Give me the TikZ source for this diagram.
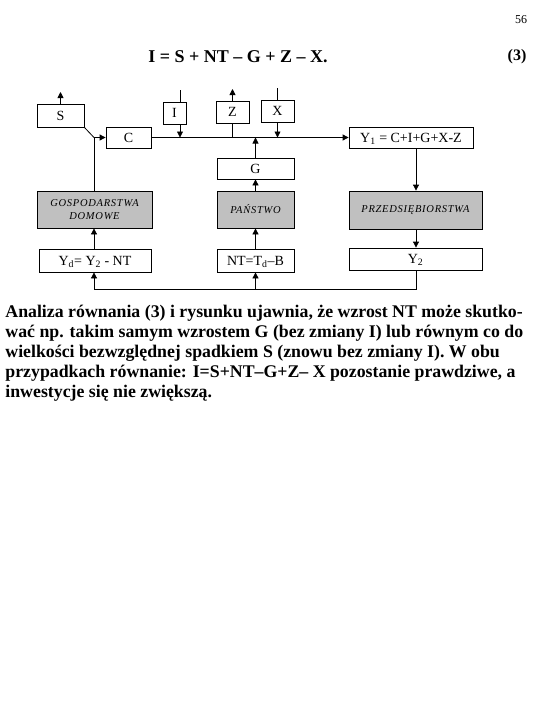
\documentclass[tikz,border=0pt]{standalone}
\usepackage{fontspec}
\setmainfont{Liberation Serif}
\newfontfamily\spacedfont[LetterSpace=7]{Liberation Serif}
\usetikzlibrary{arrows.meta}
\definecolor{boxgrey}{RGB}{192,192,192}

\begin{document}
\begin{tikzpicture}[x=1pt,y=-1pt,line width=0.8pt,
box node/.style = {draw, inner sep = 0pt, text height=9.5pt, text depth=0pt, font=\fontsize{14}{15}\selectfont},
firm node/.style = {draw, inner sep = 0pt, fill=boxgrey, align=center, font=\spacedfont\itshape\fontsize{10.5}{13}\selectfont},
flow/.style = {-{Triangle[length=6pt,width=6pt]}}]

\path[fill=white] (0,0) rectangle (540,720);
\useasboundingbox (0,0) rectangle (540,720);

\node (page) at (521,20) {\fontsize{12}{14}\selectfont 56};
\node[font=\bfseries\fontsize{18}{21}\selectfont] (eq) at (238,57) {I = S + NT -- G + Z -- X.};
\node[font=\bfseries\fontsize{16}{20}\selectfont] (eqno) at (517,57) {(3)};

\node[box node, minimum width=47pt, minimum height=23pt] (S) at (60.5,115.5) {S};
\node[box node, minimum width=23pt, minimum height=22pt] (I) at (174.5,113) {I};
\node[box node, minimum width=33pt, minimum height=22pt] (Z) at (232.5,112) {Z};
\node[box node, minimum width=33pt, minimum height=22pt] (X) at (277.5,111) {X};
\node[box node, minimum width=45pt, minimum height=21pt] (C) at (128.5,137.5) {C};
\node[box node, minimum width=124pt, minimum height=21pt] (Y1) at (411,137.5) {Y\textsubscript{1} = C+I+G+X-Z};
\node[box node, minimum width=77pt, minimum height=21pt] (G) at (255.5,168.5) {G};
\node[firm node, minimum width=115pt, minimum height=37pt] (dom) at (94.5,209.5) {GOSPODARSTWA\\DOMOWE};
\node[firm node, minimum width=77pt, minimum height=37pt] (pan) at (255.5,209.5) {PAŃSTWO};
\node[firm node, minimum width=133pt, minimum height=38pt] (prz) at (415.5,210) {PRZEDSIĘBIORSTWA};
\node[box node, minimum width=112pt, minimum height=23pt] (Yd) at (95,260.5) {Y\textsubscript{d}= Y\textsubscript{2} - NT};
\node[box node, minimum width=77pt, minimum height=23pt] (NT) at (255.5,260.5) {NT=T\textsubscript{d}--B};
\node[box node, minimum width=133pt, minimum height=22pt] (Y2) at (415.5,259) {Y\textsubscript{2}};

\coordinate (S out) at (60.5,92);
\coordinate (I in) at (180,90);
\coordinate (Z out) at (232.5,89);
\coordinate (X in) at (277.5,88);
\coordinate (split) at (94,137.5);
\coordinate (loop) at (416,289);
\coordinate (loop end) at (94,289);

\draw[flow] (S.north) -- (S out);
\draw (I in) -- (I in |- I.north);
\draw[flow] (I in |- I.south) -- (I in |- C.east);
\draw[flow] (Z.north) -- (Z out);
\draw (Z.south) -- (Z.south |- C.east);
\draw (X in) -- (X.north);
\draw[flow] (X.south) -- (X.south |- C.east);
\draw[flow] (C.east) -- (Y1.west);
\draw[flow] (G.north) -- (G.north |- C.east);
\draw (S.south east) -- (split);
\draw[flow] (split) -- (C.west);
\draw (split) -- (split |- dom.north);
\draw[flow] (loop end |- Yd.north) -- (loop end |- dom.south);
\draw[flow] (NT.north) -- (pan.south);
\draw[flow] (pan.north) -- (G.south);
\draw[flow] (Y1.south -| loop) -- (prz.north -| loop);
\draw[flow] (prz.south -| loop) -- (Y2.north -| loop);
\draw (Y2.south -| loop) -- (loop) -- (loop end);
\draw[flow] (loop end) -- (loop end |- Yd.south);
\draw[flow] (NT.south |- loop) -- (NT.south);

\node[anchor=north west, align=left, inner sep=0pt, font=\bfseries\fontsize{17.8}{20}\selectfont] (txt) at (5,305)
{Analiza równania (3) i rysunku ujawnia, że wzrost NT może skutko-\\
wać np. takim samym wzrostem G (bez zmiany I) lub równym co do\\
wielkości bezwzględnej spadkiem S (znowu bez zmiany I). W obu\\
przypadkach równanie: I=S+NT--G+Z-- X pozostanie prawdziwe, a\\
inwestycje się nie zwiększą.};
\end{tikzpicture}
\end{document}
